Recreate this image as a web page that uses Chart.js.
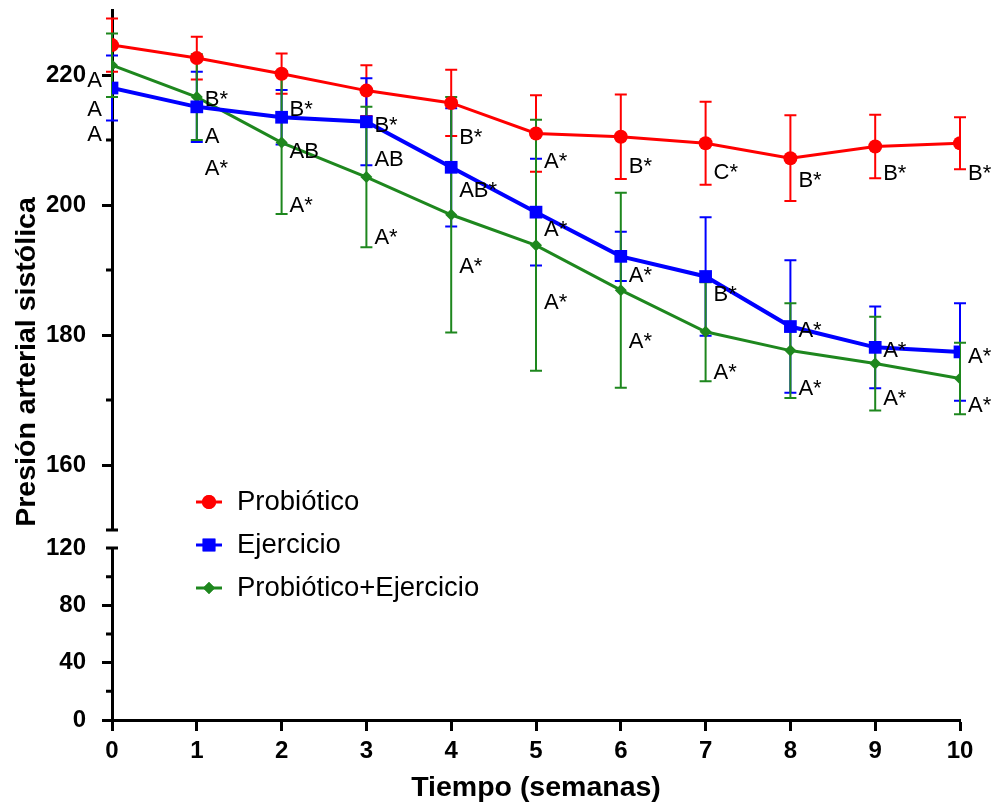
<!DOCTYPE html>
<html>
<head>
<meta charset="utf-8">
<script src="https://cdn.jsdelivr.net/npm/chart.js@4.4.1/dist/chart.umd.min.js"></script>
<style>
  body { margin: 0; background: #fff; }
  #wrap { position: relative; width: 998px; height: 808px; }
  #wrap canvas { position: absolute; left: 0; top: 0; }
</style>
</head>
<body>
<div id="wrap">
  <canvas id="low" width="998" height="808"></canvas>
  <canvas id="high" width="998" height="808"></canvas>
</div>
<script>
// weeks on the x axis
const weeks = [0, 1, 2, 3, 4, 5, 6, 7, 8, 9, 10];

// mean systolic pressure per group
const probiotico = [224.6, 222.6, 220.2, 217.6, 215.7, 211.0, 210.5, 209.5, 207.2, 209.0, 209.5];
const ejercicio = [218.0, 215.1, 213.5, 212.8, 205.8, 198.9, 192.1, 189.0, 181.3, 178.1, 177.4];
const probEjer = [221.5, 216.6, 209.6, 204.3, 198.5, 193.8, 186.9, 180.5, 177.6, 175.6, 173.3];

// standard deviations (error bars)
const sdProbiotico = [4.1, 3.3, 3.1, 3.9, 5.1, 5.9, 6.5, 6.4, 6.6, 4.9, 4.0];
const sdEjercicio = [5.0, 5.4, 4.2, 6.7, 9.1, 8.2, 3.8, 9.1, 10.2, 6.3, 7.5];
const sdProbEjer = [4.9, 6.6, 11.0, 10.8, 18.1, 19.3, 15.0, 7.6, 7.3, 7.2, 5.5];

// significance letters
const letProbiotico = ['A', 'B*', 'B*', 'B*', 'B*', 'A*', 'B*', 'C*', 'B*', 'B*', 'B*'];
const letEjercicio = ['A', 'A', 'AB', 'AB', 'AB*', 'A*', 'A*', 'B*', 'A*', 'A*', 'A*'];
const letProbEjer = ['A', 'A*', 'A*', 'A*', 'A*', 'A*', 'A*', 'A*', 'A*', 'A*', 'A*'];

// where each letter sits on the y axis
const atProbiotico = [219.1, 216.2, 214.7, 212.2, 210.3, 206.7, 205.8, 205.0, 203.7, 204.8, 204.8];
const atEjercicio = [214.6, 210.4, 208.2, 207.0, 202.2, 196.1, 189.1, 186.2, 180.6, 177.5, 176.7];
const atProbEjer = [210.8, 205.6, 199.9, 194.9, 190.4, 185.0, 179.0, 174.2, 171.7, 170.2, 169.1];

const FONT = "'Liberation Sans', Arial, sans-serif";

const pts = arr => weeks.map((w, i) => ({ x: w, y: arr[i] }));

const errorBars = {
  id: 'errorBars',
  beforeDatasetsDraw(chart) {
    const { ctx, scales: { x, y } } = chart;
    ctx.save();
    chart.data.datasets.forEach(ds => {
      ctx.strokeStyle = ds.borderColor;
      ctx.lineWidth = 2;
      ds.data.forEach((p, i) => {
        const px = x.getPixelForValue(p.x);
        const top = y.getPixelForValue(p.y + ds.sd[i]);
        const bot = y.getPixelForValue(p.y - ds.sd[i]);
        ctx.beginPath();
        ctx.moveTo(px, top); ctx.lineTo(px, bot);
        ctx.moveTo(px - 6, top); ctx.lineTo(px + 6, top);
        ctx.moveTo(px - 6, bot); ctx.lineTo(px + 6, bot);
        ctx.stroke();
      });
    });
    ctx.restore();
  }
};

const letters = {
  id: 'letters',
  afterDatasetsDraw(chart) {
    const { ctx, scales: { x, y } } = chart;
    ctx.save();
    ctx.font = '22px ' + FONT;
    ctx.fillStyle = '#000';
    ctx.textBaseline = 'middle';
    chart.data.datasets.forEach(ds => {
      ds.letters.forEach((t, i) => {
        const px = x.getPixelForValue(weeks[i]);
        const py = y.getPixelForValue(ds.letterAt[i]);
        if (i === 0) {
          ctx.textAlign = 'right';
          ctx.fillText(t, px - 10, py);
        } else {
          ctx.textAlign = 'left';
          ctx.fillText(t, px + 8, py);
        }
      });
    });
    ctx.restore();
  }
};

// short minor ticks and the break caps on the y axis
const axisMarks = {
  id: 'axisMarks',
  afterDraw(chart, args, opts) {
    const { ctx, scales: { y } } = chart;
    const ax = chart.chartArea.left;
    ctx.save();
    ctx.strokeStyle = '#000';
    ctx.lineWidth = 3;
    ctx.beginPath();
    opts.minor.forEach(v => {
      const py = y.getPixelForValue(v);
      ctx.moveTo(ax - 6, py); ctx.lineTo(ax, py);
    });
    const cy = y.getPixelForValue(opts.cap);
    ctx.moveTo(ax - 6, cy); ctx.lineTo(ax + 6, cy);
    ctx.stroke();
    ctx.restore();
  }
};

const sideTitle = {
  id: 'sideTitle',
  afterDraw(chart) {
    const { ctx } = chart;
    ctx.save();
    ctx.translate(27, 362);
    ctx.rotate(-Math.PI / 2);
    ctx.font = 'bold 28.5px ' + FONT;
    ctx.fillStyle = '#000';
    ctx.textAlign = 'center';
    ctx.textBaseline = 'middle';
    ctx.fillText('Presión arterial sistólica', 0, 0);
    ctx.restore();
  }
};

const boxLegend = {
  id: 'boxLegend',
  afterDraw(chart) {
    const { ctx } = chart;
    ctx.save();
    chart.data.datasets.forEach((ds, i) => {
      const cy = 502 + i * 43;
      ctx.strokeStyle = ds.borderColor;
      ctx.lineWidth = 3;
      ctx.beginPath();
      ctx.moveTo(196, cy); ctx.lineTo(222, cy);
      ctx.stroke();
      ctx.fillStyle = ds.borderColor;
      Chart.helpers.drawPoint(ctx, { pointStyle: ds.pointStyle, radius: ds.pointRadius, borderWidth: 0 }, 209, cy);
      ctx.fill();
      ctx.fillStyle = '#000';
      ctx.font = '27.5px ' + FONT;
      ctx.textAlign = 'left';
      ctx.textBaseline = 'middle';
      ctx.fillText(ds.label, 237, cy);
    });
    ctx.restore();
  }
};

const tickFont = { family: FONT, size: 24, weight: 'bold' };
const noPad = s => { s.paddingTop = 0; s.paddingBottom = 0; };

new Chart(document.getElementById('high'), {
  type: 'line',
  data: {
    datasets: [
      { label: 'Probiótico', data: pts(probiotico), sd: sdProbiotico, letters: letProbiotico, letterAt: atProbiotico,
        borderColor: '#ff0000', backgroundColor: '#ff0000', borderWidth: 3, pointStyle: 'circle', pointRadius: 7, pointBorderWidth: 0 },
      { label: 'Ejercicio', data: pts(ejercicio), sd: sdEjercicio, letters: letEjercicio, letterAt: atEjercicio,
        borderColor: '#0000ff', backgroundColor: '#0000ff', borderWidth: 4, pointStyle: 'rect', pointRadius: 9, pointBorderWidth: 0 },
      { label: 'Probiótico+Ejercicio', data: pts(probEjer), sd: sdProbEjer, letters: letProbEjer, letterAt: atProbEjer,
        borderColor: '#1e871e', backgroundColor: '#1e871e', borderWidth: 3, pointStyle: 'rectRot', pointRadius: 6, pointBorderWidth: 0 }
    ]
  },
  options: {
    responsive: false,
    animation: false,
    layout: { padding: { top: 10, right: 38, bottom: 278, left: 0 } },
    plugins: {
      legend: { display: false },
      tooltip: { enabled: false },
      axisMarks: { minor: [170, 190, 210], cap: 150 }
    },
    scales: {
      x: { type: 'linear', min: 0, max: 10, display: false },
      y: {
        min: 150, max: 230,
        afterFit: s => { s.width = 112; noPad(s); },
        ticks: { stepSize: 10, padding: 16, color: '#000', font: tickFont,
          callback: v => (v % 20 === 0 ? v : '') },
        grid: { drawOnChartArea: false, tickLength: 10,
          tickWidth: c => (c.tick && c.tick.value % 20 === 0 ? 3 : 0),
          tickColor: c => (c.tick && c.tick.value % 20 === 0 ? '#000' : 'rgba(0,0,0,0)') },
        border: { color: '#000', width: 3 }
      }
    }
  },
  plugins: [errorBars, letters, axisMarks, sideTitle, boxLegend]
});

new Chart(document.getElementById('low'), {
  type: 'line',
  data: { datasets: [] },
  options: {
    responsive: false,
    animation: false,
    layout: { padding: { top: 548, right: 38, bottom: 0, left: 0 } },
    plugins: {
      legend: { display: false },
      tooltip: { enabled: false },
      axisMarks: { minor: [20, 60, 100], cap: 120 }
    },
    scales: {
      x: {
        type: 'linear', min: 0, max: 10,
        afterFit: s => { s.height = 88; },
        ticks: { stepSize: 1, padding: 6, color: '#000', font: tickFont },
        grid: { drawOnChartArea: false, tickLength: 11, tickWidth: 3, tickColor: '#000' },
        border: { color: '#000', width: 3 },
        title: { display: true, text: 'Tiempo (semanas)', color: '#000',
          font: { family: FONT, size: 28.5, weight: 'bold' }, padding: { top: 0, bottom: 3 } }
      },
      y: {
        min: 0, max: 120,
        afterFit: s => { s.width = 112; noPad(s); },
        ticks: { stepSize: 20, padding: 16, color: '#000', font: tickFont,
          callback: v => (v % 40 === 0 ? v : '') },
        grid: { drawOnChartArea: false, tickLength: 10,
          tickWidth: c => (c.tick && c.tick.value % 40 === 0 && c.tick.value < 120 ? 3 : 0),
          tickColor: c => (c.tick && c.tick.value % 40 === 0 && c.tick.value < 120 ? '#000' : 'rgba(0,0,0,0)') },
        border: { color: '#000', width: 3 }
      }
    }
  },
  plugins: [axisMarks]
});
</script>
</body>
</html>
